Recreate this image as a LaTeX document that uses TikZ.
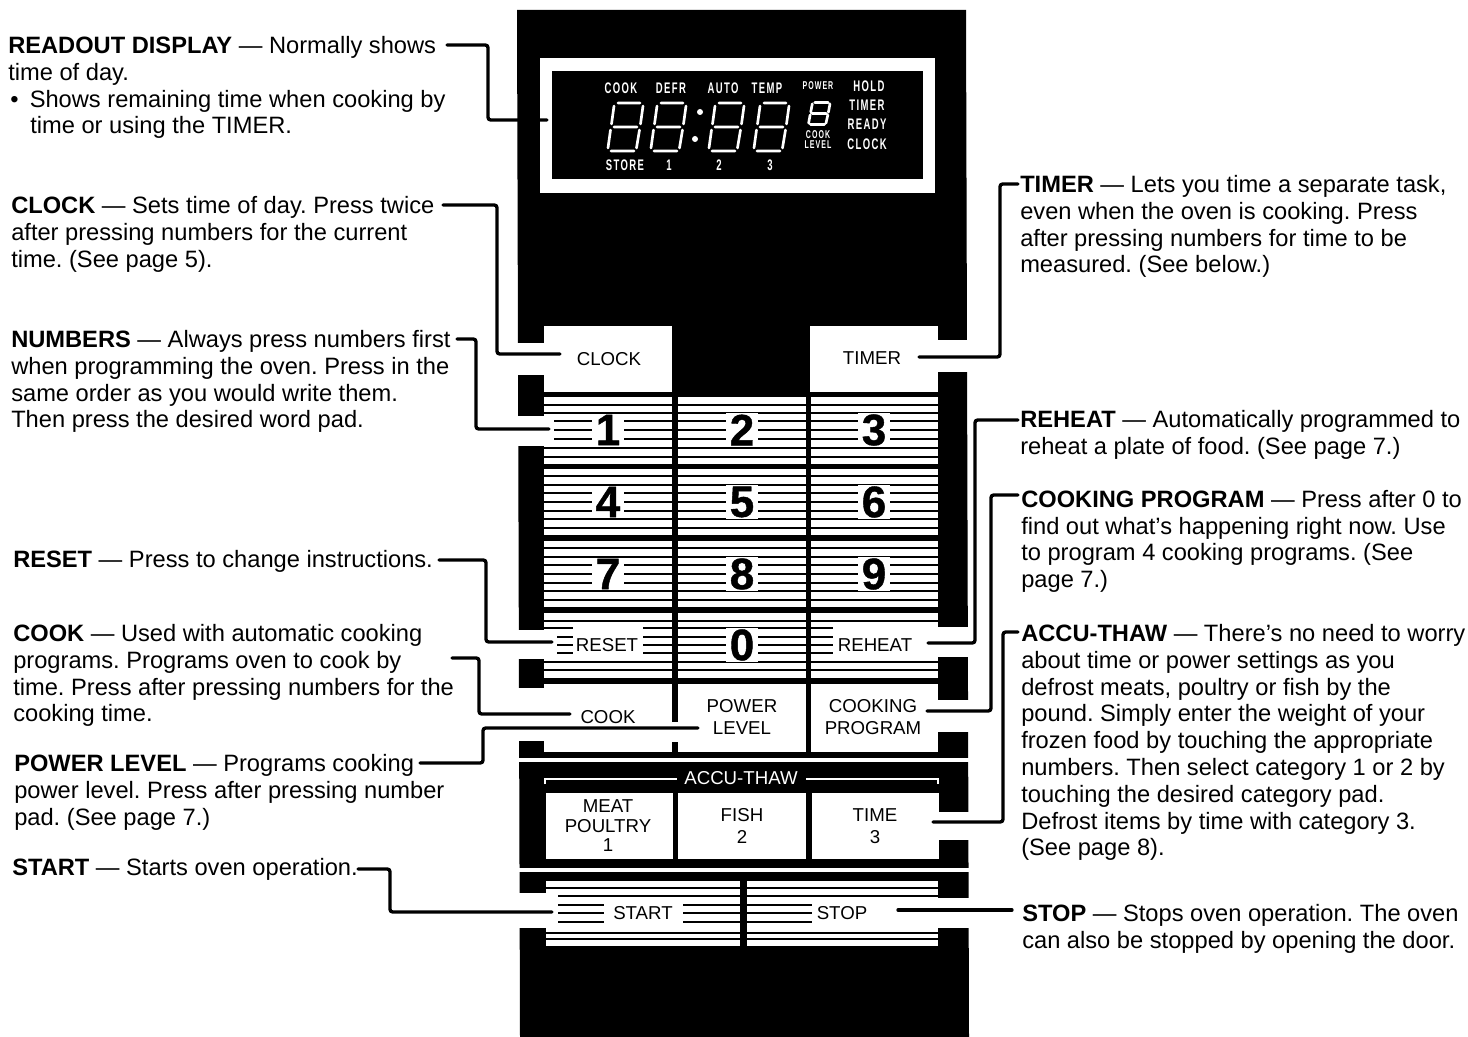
\documentclass[tikz,border=0pt]{standalone}
\usepackage{fontspec}
\setmainfont{Liberation Sans}
\newfontfamily\lcdfont{Liberation Sans}[FakeStretch=0.62,LetterSpace=9]
\newfontfamily\keyfont{Liberation Sans Bold}[FakeBold=1]
\frenchspacing
\tikzset{
  leader/.style={line width=2.5pt,line cap=round,rounded corners=2pt},
  barline/.style={line width=1.9pt},
  blurb/.style={anchor=north west,inner sep=0pt,align=left,font=\fontsize{17.75}{20.1}\selectfont},
  padtext/.style={inner sep=0pt,align=center,font=\fontsize{14}{16.5}\selectfont},
  thawtext/.style={inner sep=0pt,align=center,font=\fontsize{14}{14.6}\selectfont},
  numkey/.style={inner xsep=3pt,inner ysep=1pt,fill=white,font=\fontsize{33}{33}\keyfont\selectfont},
  lcdtext/.style={inner sep=0pt,text=white,font=\fontsize{11.5}{11.5}\lcdfont\bfseries\selectfont},
  lcdsmall/.style={inner sep=0pt,text=white,align=center,font=\fontsize{8.5}{8.5}\lcdfont\bfseries\selectfont},
  lcdeight/.pic={
    \draw[yscale=-1,white,line width=2pt,line cap=round]
      (11,1) -- (33,1) (36,4) -- (33.5,22) (7,4) -- (4.5,22) (7,25) -- (30,25)
      (32.5,28) -- (29.5,46) (3.5,28) -- (1,46) (4,49) -- (27,49);
  }
}
\begin{document}
\begin{tikzpicture}[x=0.75pt,y=0.75pt,yscale=-1,xscale=1]
\path[use as bounding box] (0,0) rectangle (1468,1037);

%Panel
\fill (517,10) -- (966,10) -- (969,1037) -- (520,1037) -- cycle;
%Readout frame
\fill[white] (540,58) rectangle (935,193);
\fill (552,71) rectangle (923,179);

%Striped keys
\foreach \cx/\dx in {544/672,678/806,811/938}{
  \foreach \ry/\sy in {397/464,469/535,541/607,613/678}
    \fill[white] (\cx,\ry) rectangle (\dx,\sy);
  \foreach \ly in {405,413,421,430,439,448,457,476,485,493,502,511,519,528,548,557,565,574,583,591,600,621,662,670}
    \draw[barline] (\cx,\ly) -- (\dx,\ly);
  \foreach \ly in {628,637,645,653}
    \draw[barline] (\cx,\ly) -- (\dx,\ly);
}
%Plain keys
\fill[white] (544,326) rectangle (672,392);
\fill[white] (810,326) rectangle (938,392);
\fill[white] (544,684) rectangle (672,752);
\fill[white] (678,684) rectangle (806,752);
\fill[white] (811,684) rectangle (938,752);
\fill[white] (672,722) rectangle (678,742);
\fill[white] (546,793) rectangle (673,859);
\fill[white] (678,793) rectangle (806,859);
\fill[white] (812,793) rectangle (939,859);
%Start and stop keys
\fill[white] (546,881) rectangle (740,946);
\fill[white] (747,881) rectangle (938,946);
\foreach \ly in {888,896,933,939}{
  \draw[barline] (546,\ly) -- (740,\ly);
  \draw[barline] (747,\ly) -- (938,\ly);
}
\foreach \ly in {905,913,922}{
  \draw[barline] (558,\ly) -- (604,\ly);
  \draw[barline] (683,\ly) -- (740,\ly);
  \draw[barline] (747,\ly) -- (812,\ly);
}
%Clear the label parts of the bottom number row
\fill[white] (544,630) rectangle (557,659);
\fill[white] (573,627) rectangle (643,659);
\fill[white] (833,627) rectangle (938,659);

%Gaps in the panel edges
\foreach \ay/\by/\bx in {343/375/545,416/446/554,630/659/557,688/741/545,893/928/558}
  \fill[white] (510,\ay) rectangle (\bx,\by);
\foreach \ay/\by in {340/372,627/657,700/732,812/840,898/928}
  \fill[white] (938,\ay) rectangle (975,\by);
\fill[white] (510,758) rectangle (975,762);
\fill[white] (510,868) rectangle (975,872);

%Accu-thaw bracket
\node[padtext,text=white] (thawhead) at (741,778) {ACCU-THAW};
\coordinate (thawa) at (545,784);
\coordinate (thawb) at (677,779);
\coordinate (thawc) at (806,779);
\coordinate (thawd) at (938,784);
\draw[white,line width=0.8pt] (thawa) -- (545,779) -- (thawb);
\draw[white,line width=0.8pt] (thawc) -- (938,779) -- (thawd);

%Display digits
\pic at (607,102) {lcdeight};
\pic at (650,102) {lcdeight};
\pic at (708,102) {lcdeight};
\pic at (753,102) {lcdeight};
\pic[xscale=0.61,yscale=0.46] at (808,102) {lcdeight};
\fill[white] (700,112) circle [radius=3];
\fill[white] (695,139) circle [radius=3];

% Display Text
\node[lcdtext] (dcook) at (621,88) {COOK};
\node[lcdtext] (ddefr) at (671,88) {DEFR};
\node[lcdtext] (dauto) at (723,88) {AUTO};
\node[lcdtext] (dtemp) at (767,88) {TEMP};
\node[lcdsmall] (dpower) at (818,86) {POWER};
\node[lcdtext] (dhold) at (869,86) {HOLD};
\node[lcdtext] (dtimer) at (867,105) {TIMER};
\node[lcdtext] (dready) at (867,124) {READY};
\node[lcdtext] (dclock) at (867,144) {CLOCK};
\node[lcdsmall] (dlevel) at (818,140) {COOK\\[-1pt]LEVEL};
\node[lcdtext] (dstore) at (625,165) {STORE};
\node[lcdtext] (done) at (669,165) {1};
\node[lcdtext] (dtwo) at (719,165) {2};
\node[lcdtext] (dthree) at (770,165) {3};

% Key Text
\node[numkey] (kone) at (608,430) {1};
\node[numkey] (ktwo) at (742,430) {2};
\node[numkey] (kthree) at (874,430) {3};
\node[numkey] (kfour) at (608,502) {4};
\node[numkey] (kfive) at (742,502) {5};
\node[numkey] (ksix) at (874,502) {6};
\node[numkey] (kseven) at (608,574) {7};
\node[numkey] (keight) at (742,574) {8};
\node[numkey] (knine) at (874,574) {9};
\node[numkey] (kzero) at (742,645) {0};
\node[padtext] (kclock) at (609,359) {CLOCK};
\node[padtext] (ktimer) at (872,358) {TIMER};
\node[padtext] (kreset) at (607,645) {RESET};
\node[padtext] (kreheat) at (875,645) {REHEAT};
\node[padtext] (kcook) at (608,717) {COOK};
\node[padtext] (kpower) at (742,717) {POWER\\LEVEL};
\node[padtext] (kprogram) at (873,717) {COOKING\\PROGRAM};
\node[thawtext] (kmeat) at (608,826) {MEAT\\POULTRY\\1};
\node[padtext] (kfish) at (742,826) {FISH\\2};
\node[padtext] (ktime) at (875,826) {TIME\\3};
\node[padtext] (kstart) at (643,913) {START};
\node[padtext] (kstop) at (842,913) {STOP};

% Left Text
\node[blurb] (readout) at (8,36) {\textbf{READOUT DISPLAY} — Normally shows\\time of day.\\\hspace*{1.5pt}•\hspace*{3.5pt} Shows remaining time when cooking by\\\hspace*{16.5pt}time or using the TIMER.};
\node[blurb] (clock) at (11,196) {\textbf{CLOCK} — Sets time of day. Press twice\\after pressing numbers for the current\\time. (See page 5).};
\node[blurb] (numbers) at (11,330) {\textbf{NUMBERS} — Always press numbers first\\when programming the oven. Press in the\\same order as you would write them.\\Then press the desired word pad.};
\node[blurb] (reset) at (13,550) {\textbf{RESET} — Press to change instructions.};
\node[blurb] (cook) at (13,624) {\textbf{COOK} — Used with automatic cooking\\programs. Programs oven to cook by\\time. Press after pressing numbers for the\\cooking time.};
\node[blurb] (power) at (14,754) {\textbf{POWER LEVEL} — Programs cooking\\power level. Press after pressing number\\pad. (See page 7.)};
\node[blurb] (start) at (12,858) {\textbf{START} — Starts oven operation.};
% Right Text
\node[blurb] (timer) at (1020,175) {\textbf{TIMER} — Lets you time a separate task,\\even when the oven is cooking. Press\\after pressing numbers for time to be\\measured. (See below.)};
\node[blurb] (reheat) at (1020,410) {\textbf{REHEAT} — Automatically programmed to\\reheat a plate of food. (See page 7.)};
\node[blurb] (program) at (1021,490) {\textbf{COOKING PROGRAM} — Press after 0 to\\find out what’s happening right now. Use\\to program 4 cooking programs. (See\\page 7.)};
\node[blurb] (thaw) at (1021,624) {\textbf{ACCU-THAW} — There’s no need to worry\\about time or power settings as you\\defrost meats, poultry or fish by the\\pound. Simply enter the weight of your\\frozen food by touching the appropriate\\numbers. Then select category 1 or 2 by\\touching the desired category pad.\\Defrost items by time with category 3.\\(See page 8).};
\node[blurb] (stop) at (1022,904) {\textbf{STOP} — Stops oven operation. The oven\\can also be stopped by opening the door.};

% Leader Ends
\coordinate (lreadout) at (447,45);
\coordinate (ereadout) at (547,120);
\coordinate (lclock) at (443,205);
\coordinate (eclock) at (560,354);
\coordinate (lnumbers) at (457,339);
\coordinate (enumbers) at (549,429);
\coordinate (lreset) at (439,560);
\coordinate (ereset) at (552,642);
\coordinate (lcook) at (452,658);
\coordinate (ecook) at (570,714);
\coordinate (lpower) at (420,763);
\coordinate (epower) at (698,728);
\coordinate (lstart) at (358,869);
\coordinate (estart) at (552,912);
\coordinate (lstop) at (1012,910);
\coordinate (estop) at (898,910);
\coordinate (ltimer) at (1018,184);
\coordinate (etimer) at (919,357);
\coordinate (lreheat) at (1018,420);
\coordinate (ereheat) at (928,643);
\coordinate (lprogram) at (1018,495);
\coordinate (eprogram) at (927,711);
\coordinate (lthaw) at (1018,632);
\coordinate (ethaw) at (933,822);

%Straight Lines
\draw[leader] (lreadout) -- (488,45) -- (488,120) -- (ereadout);
\draw[leader] (lclock) -- (497,205) -- (497,354) -- (eclock);
\draw[leader] (lnumbers) -- (476,339) -- (476,429) -- (enumbers);
\draw[leader] (lreset) -- (486,560) -- (486,642) -- (ereset);
\draw[leader] (lcook) -- (479,658) -- (479,714) -- (ecook);
\draw[leader] (lpower) -- (483,763) -- (483,728) -- (epower);
\draw[leader] (lstart) -- (390,869) -- (390,912) -- (estart);
\draw[leader] (lstop) -- (estop);
\draw[leader] (ltimer) -- (1000,184) -- (1000,357) -- (etimer);
\draw[leader] (lreheat) -- (975,420) -- (975,643) -- (ereheat);
\draw[leader] (lprogram) -- (991,495) -- (991,711) -- (eprogram);
\draw[leader] (lthaw) -- (1003,632) -- (1003,822) -- (ethaw);

\end{tikzpicture}
\end{document}
